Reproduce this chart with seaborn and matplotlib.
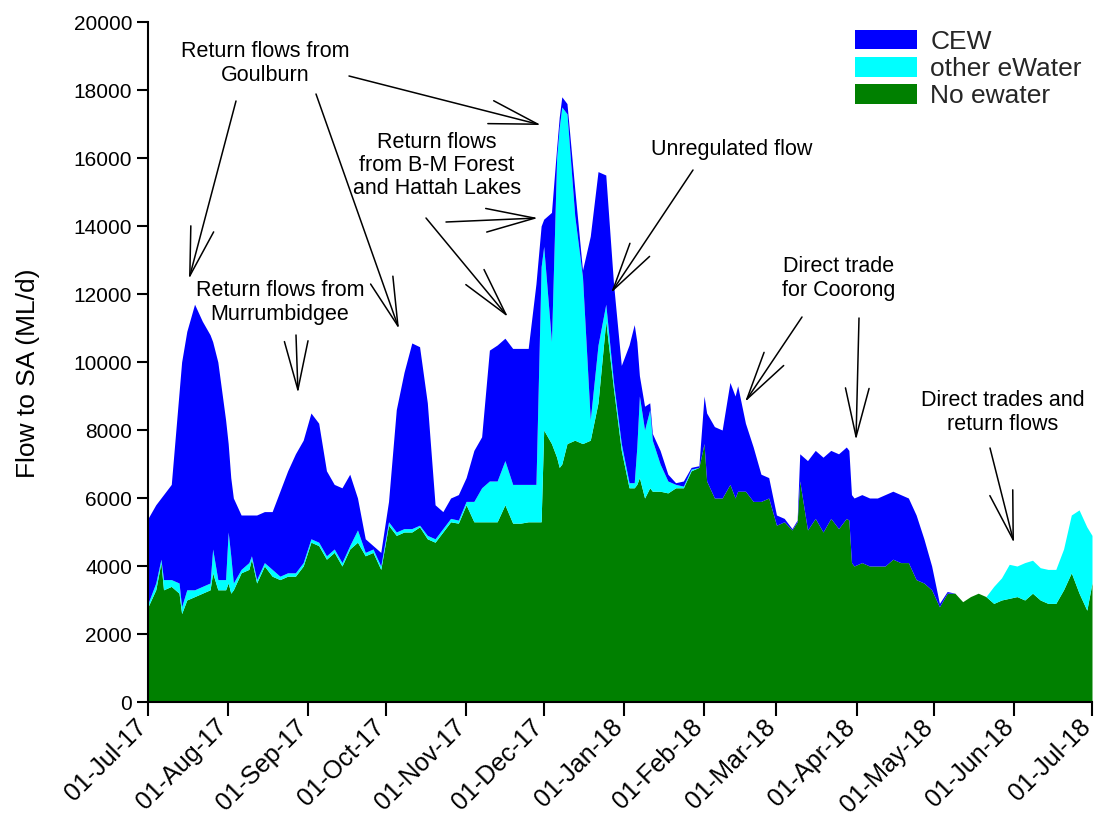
import matplotlib
matplotlib.use("Agg")
import matplotlib.pyplot as plt
import matplotlib.dates as mdates
import pandas as pd
import seaborn as sns

# ---------------- data (ML/d) ----------------
start_date = pd.Timestamp("2017-07-01")
# sample positions, in days after 01-Jul-17
sample_days = [0, 3, 5, 6, 9, 12, 13, 15, 18, 21, 24, 25, 27, 30, 31, 32, 33, 36, 39, 40,
               42, 45, 48, 51, 54, 57, 60, 63, 66, 69, 72, 75, 78, 81, 84, 87, 90, 93, 96, 99,
               102, 105, 108, 111, 114, 117, 120, 123, 126, 129, 132, 135, 138, 141, 144, 147, 150, 152, 153, 156,
               158, 159, 160, 162, 165, 168, 171, 174, 177, 180, 183, 186, 188, 189, 190, 192, 194, 195, 198, 201,
               204, 207, 210, 213, 215, 216, 219, 222, 225, 227, 228, 231, 234, 237, 240, 243, 246, 249, 251, 252,
               255, 258, 261, 264, 267, 270, 271, 272, 273, 276, 279, 282, 285, 288, 291, 294, 297, 300, 303, 306,
               309, 312, 315, 318, 321, 324, 327, 330, 333, 336, 339, 342, 345, 348, 351, 354, 357, 360, 363, 365]

# top of the "No ewater" layer
no_ewater = [2800, 3300, 4100, 3300, 3400, 3200, 2600, 3000, 3100, 3200, 3300, 3800, 3300, 3300, 3500, 3200, 3300, 3800, 3900, 4200,
             3500, 4000, 3700, 3600, 3700, 3700, 4000, 4700, 4600, 4200, 4400, 4000, 4500, 4700, 4300, 4400, 3900, 5200, 4900, 5000,
             5000, 5150, 4800, 4700, 5000, 5300, 5260, 5800, 5300, 5300, 5300, 5300, 5800, 5260, 5260, 5300, 5300, 5300, 8000, 7600,
             7200, 6900, 7000, 7600, 7700, 7600, 7700, 8800, 11200, 9200, 7400, 6300, 6300, 6400, 6600, 6000, 6300, 6200, 6200, 6150,
             6300, 6300, 6800, 6900, 7600, 6500, 6000, 6000, 6400, 6000, 6200, 6200, 5900, 5900, 6000, 5200, 5300, 5060, 5300, 6500,
             5060, 5400, 5000, 5400, 5100, 5400, 5350, 4100, 4000, 4100, 4000, 4000, 4000, 4200, 4100, 4100, 3600, 3500, 3300, 2800,
             3200, 3200, 2950, 3100, 3200, 3100, 2900, 3000, 3050, 3100, 3000, 3200, 3000, 2900, 2900, 3300, 3800, 3200, 2700, 3500]

# top of the "other eWater" layer (No ewater + other eWater)
with_other_ewater = [2900, 3500, 4200, 3600, 3600, 3500, 2800, 3300, 3300, 3400, 3500, 4500, 3600, 3600, 5000, 4300, 3500, 3900, 4100, 4300,
                     3600, 4100, 3900, 3700, 3800, 3800, 4100, 4800, 4700, 4300, 4500, 4100, 4600, 5060, 4400, 4500, 4000, 5300, 5000, 5100,
                     5100, 5200, 4900, 4800, 5100, 5400, 5350, 5900, 5900, 6300, 6500, 6500, 7100, 6400, 6400, 6400, 6400, 12800, 13400, 10600,
                     16000, 16900, 17500, 17300, 14300, 12500, 8300, 10500, 11700, 9400, 7600, 6450, 6450, 7500, 9000, 8000, 8600, 7700, 7000, 6500,
                     6400, 6350, 6850, 6900, 7600, 6500, 6000, 6000, 6400, 6000, 6200, 6200, 5900, 5900, 6000, 5200, 5300, 5060, 5300, 6500,
                     5060, 5400, 5000, 5400, 5100, 5400, 5350, 4100, 4000, 4100, 4000, 4000, 4000, 4200, 4100, 4100, 3600, 3500, 3300, 2800,
                     3200, 3200, 2950, 3100, 3200, 3100, 3400, 3650, 4050, 4000, 4100, 4170, 3950, 3900, 3900, 4500, 5500, 5650, 5150, 4900]

# total flow to SA (top of the CEW layer)
total_flow = [5400, 5800, 6000, 6100, 6400, 9100, 10000, 10900, 11700, 11200, 10800, 10600, 10000, 8300, 7600, 6600, 6000, 5500, 5500, 5500,
              5500, 5600, 5600, 6200, 6800, 7300, 7700, 8500, 8200, 6800, 6400, 6300, 6700, 6000, 4800, 4600, 4400, 5900, 8600, 9700,
              10560, 10450, 8800, 5800, 5600, 6000, 6100, 6600, 7400, 7800, 10350, 10500, 10700, 10400, 10400, 10400, 12300, 14000, 14200, 14400,
              16300, 17200, 17800, 17600, 15100, 12700, 13700, 15600, 15500, 12300, 9900, 10500, 11100, 10600, 9600, 8700, 8800, 7900, 7400, 6700,
              6450, 6500, 6900, 6950, 9000, 8500, 8100, 8000, 9400, 9000, 9300, 8200, 7500, 6700, 6600, 5500, 5400, 5100, 5350, 7300,
              7100, 7400, 7200, 7400, 7300, 7500, 7400, 6100, 6000, 6100, 6000, 6000, 6100, 6200, 6100, 6000, 5500, 4800, 4000, 2900,
              3250, 3200, 2950, 3100, 3200, 3100, 3400, 3650, 4050, 4000, 4100, 4170, 3950, 3900, 3900, 4500, 5500, 5650, 5150, 4900]

series_names = ["CEW", "other eWater", "No ewater"]
series_colors = ["#0000FF", "#00FFFF", "#008000"]

annotation_texts = [
    "Return flows from\nGoulburn",
    "Return flows from\nMurrumbidgee",
    "Return flows\nfrom B-M Forest\nand Hattah Lakes",
    "Unregulated flow",
    "Direct trade\nfor Coorong",
    "Direct trades and\nreturn flows",
]

# ---------------- figure ----------------
W, H = 1094, 832
sns.set_theme(style="ticks")
plt.rcParams["font.family"] = ["Liberation Sans", "DejaVu Sans"]

fig = plt.figure(figsize=(W / 100, H / 100), dpi=100)
fig.patch.set_facecolor("white")
ax = fig.add_axes([148 / W, 1 - 702 / H, (1092 - 148) / W, (702 - 22) / H])
ax.set_facecolor("white")

df = pd.DataFrame({"date": start_date + pd.to_timedelta(sample_days, unit="D"),
                   "no": no_ewater, "other": with_other_ewater, "total": total_flow})

ax.fill_between(df["date"], 0, df["no"], color=series_colors[2], lw=0, label=series_names[2])
ax.fill_between(df["date"], df["no"], df["other"], color=series_colors[1], lw=0, label=series_names[1])
ax.fill_between(df["date"], df["other"], df["total"], color=series_colors[0], lw=0, label=series_names[0])

ax.set_xlim(pd.Timestamp("2017-07-01"), pd.Timestamp("2018-07-01"))
ax.set_ylim(0, 20000)
ax.set_yticks(range(0, 20001, 2000))
ax.xaxis.set_major_locator(mdates.MonthLocator(bymonthday=1))
ax.xaxis.set_major_formatter(mdates.DateFormatter("%d-%b-%y"))

sns.despine(ax=ax, top=True, right=True)
for s in ["left", "bottom"]:
    ax.spines[s].set_color("black")
    ax.spines[s].set_linewidth(1.5)
ax.tick_params(axis="y", direction="out", length=8, width=1.5, color="black",
               labelsize=15, labelcolor="black")
ax.tick_params(axis="x", direction="out", length=10, width=1.5, color="black",
               labelsize=18, labelcolor="black", pad=9)
for lab in ax.get_xticklabels():
    lab.set_rotation(45)
    lab.set_ha("right")
    lab.set_va("baseline")
    lab.set_rotation_mode("anchor")
ax.grid(False)

fig.text(28 / W, 1 - 373 / H, "Flow to SA (ML/d)", rotation=90, ha="center", va="center",
         fontsize=19, color="black")

# legend
handles, labels = ax.get_legend_handles_labels()
order = [labels.index(n) for n in series_names]
fig.legend([handles[i] for i in order], [labels[i] for i in order],
           loc="upper left", bbox_to_anchor=(855 / W, 1 - 30 / H),
           frameon=False, fontsize=19, borderpad=0, borderaxespad=0,
           handlelength=2.35, handleheight=0.75, handletextpad=0.5,
           labelspacing=0.12)

# ---------------- annotations (image pixel positions) ----------------
def fp(x, y):
    return (x, H - y)

text_pos = [(265, 63.5), (280, 302.5), (437, 165.5), (732, 149), (839, 278.5), (1003, 412.5)]
for t, (x, y) in zip(annotation_texts, text_pos):
    fig.text(x / W, 1 - y / H, t, ha="center", va="center", fontsize=15.5,
             color="black", linespacing=1.15)

arrows = [
    ((236, 101), (189, 279)),
    ((316, 94), (399, 329)),
    ((349, 76), (541, 125)),
    ((296, 335), (298, 393)),
    ((446, 222), (538, 218)),
    ((426, 218), (508, 317)),
    ((693, 170), (611, 293)),
    ((802, 317), (745, 402)),
    ((859, 318), (856, 440)),
    ((990, 448), (1014, 543)),
]
for tail, tip in arrows:
    ax.annotate("", xy=fp(*tip), xycoords="figure pixels",
                xytext=fp(*tail), textcoords="figure pixels",
                arrowprops=dict(arrowstyle="->,head_length=3.5,head_width=0.85",
                                mutation_scale=10, lw=1.1, color="black",
                                shrinkA=0, shrinkB=0),
                annotation_clip=False)

fig.savefig("out.png", dpi=100, facecolor="white")
